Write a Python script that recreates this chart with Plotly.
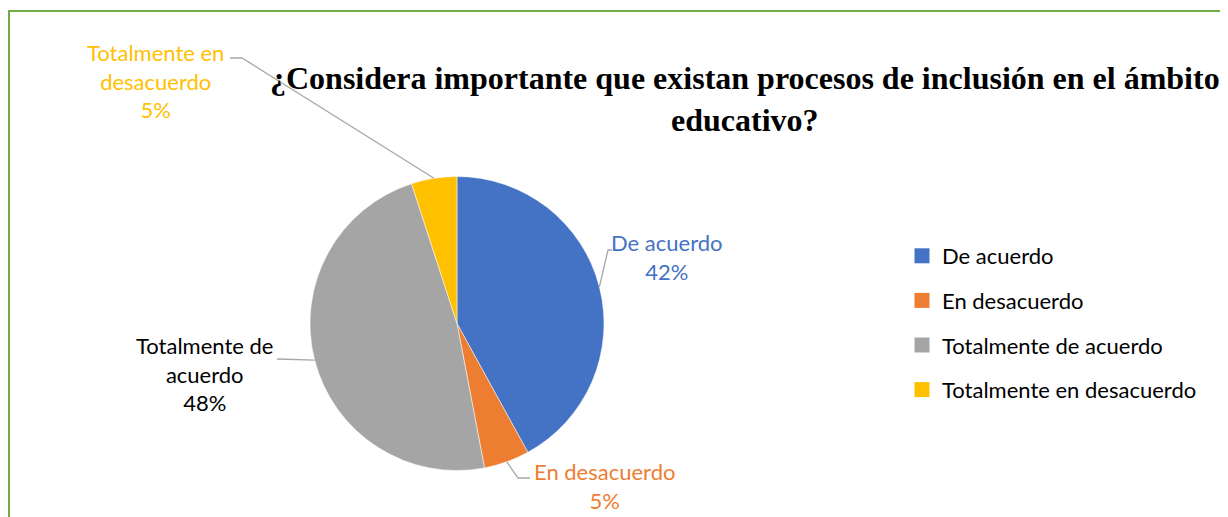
import math
import plotly.graph_objects as go

categories = ["De acuerdo", "En desacuerdo", "Totalmente de acuerdo", "Totalmente en desacuerdo"]
values = [42, 5, 48, 5]
colors = ["#4472C4", "#ED7D31", "#A5A5A5", "#FFC000"]
label_lines = ["De acuerdo", "En desacuerdo", "Totalmente de<br>acuerdo", "Totalmente en<br>desacuerdo"]
title_text = "¿Considera importante que existan procesos de inclusión en el ámbito<br>educativo?"

# page body has an 8px margin; figure spans screen px 8..1228 x 8..517
OFF = 8
W, H = 1220, 509
CX, CY, R = 457, 323.5, 147

def px(x):
    return (x - OFF) / W

def py(y):
    return 1 - (y - OFF) / H

fig = go.Figure()
fig.add_trace(go.Pie(
    labels=categories, values=values, sort=False, direction="clockwise", rotation=0,
    marker=dict(colors=colors, line=dict(color="white", width=0.5)),
    textinfo="none", hoverinfo="label+percent", showlegend=False,
    domain=dict(x=[px(CX - R), px(CX + R)], y=[py(CY + R), py(CY - R)]),
))

# legend via dummy traces
for c, col in zip(categories, colors):
    fig.add_trace(go.Scatter(x=[None], y=[None], mode="markers", name=c,
                             marker=dict(symbol="square", size=15, color=col),
                             legendgroup=c, showlegend=True))

# label placement (layout): text anchor center, elbow point, text color
label_layout = [
    dict(tx=667, ty=257, elbow=[(608, 250), (612, 250)], color="#4472C4"),
    dict(tx=604, ty=486, elbow=[(518, 478), (530, 478)], color="#ED7D31"),
    dict(tx=204, ty=374, elbow=[(277, 359)], color="#000000"),
    dict(tx=155, ty=81, elbow=[(242, 58), (230, 58)], color="#FFC000"),
]

total = sum(values)
start = 0.0
for i, v in enumerate(values):
    pct = round(100 * v / total)
    mid = start + v / total * 360 / 2
    start += v / total * 360
    a = math.radians(mid)
    ex, ey = CX + R * math.sin(a), CY - R * math.cos(a)
    lay = label_layout[i]
    pts = [(ex, ey)] + lay["elbow"]
    path = "M " + " L ".join(f"{px(x)},{py(y)}" for x, y in pts)
    fig.add_shape(type="path", path=path, xref="paper", yref="paper",
                  line=dict(color="#A6A6A6", width=1.3))
    fig.add_annotation(x=px(lay["tx"]), y=py(lay["ty"]), xref="paper", yref="paper",
                       text=f"{label_lines[i]}<br>{pct}%", showarrow=False,
                       xanchor="center", yanchor="middle", align="center",
                       font=dict(family="Lato, Carlito, Calibri, sans-serif", size=22, color=lay["color"]))

# green frame
fig.add_shape(type="rect", xref="paper", yref="paper", x0=px(9), x1=px(1225.5), y0=py(530), y1=py(11),
              line=dict(color="#70AD47", width=2), layer="above")

fig.add_annotation(x=px(745), y=py(99), xref="paper", yref="paper", text=title_text,
                   showarrow=False, xanchor="center", yanchor="middle", align="center",
                   font=dict(family="Liberation Serif, Times New Roman, serif", size=32, color="black", weight="bold"))

fig.update_layout(
    width=W, height=H, margin=dict(l=0, r=0, t=0, b=0),
    paper_bgcolor="white", plot_bgcolor="white",
    xaxis=dict(visible=False), yaxis=dict(visible=False),
    legend=dict(x=px(902), y=py(235), xanchor="left", yanchor="top",
                font=dict(family="Lato, Carlito, Calibri, sans-serif", size=22, color="black"),
                tracegroupgap=13, itemwidth=30, bgcolor="rgba(0,0,0,0)"),
)

fig.write_html("out.html")
